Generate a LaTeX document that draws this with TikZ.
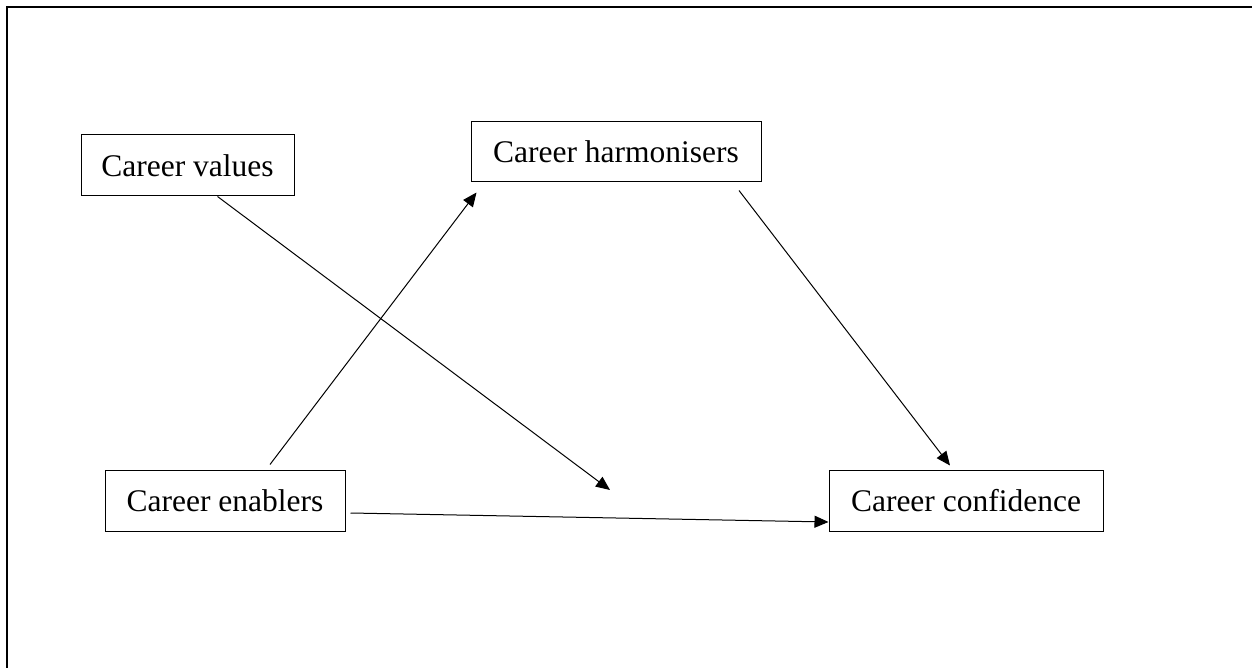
\documentclass[tikz,border=0pt]{standalone}
\usepackage{fontspec}
\setmainfont{Liberation Serif}
\usetikzlibrary{arrows.meta,calc}
\begin{document}
\begin{tikzpicture}[x=1pt,y=-1pt,
  box/.style={draw,line width=1pt,inner sep=0pt,anchor=center,
    font=\fontsize{31.5}{38}\selectfont},
  arr/.style={line width=1pt,-{Triangle[length=14pt,width=12pt]}}]
\useasboundingbox[fill=white] (0,0) rectangle (1252,668);
\draw[line width=2.2pt] (7,668) -- (7,7) -- (1252,7);
\node[box,minimum width=213pt,minimum height=61pt] (values) at (187.5,165.5) {Career values};
\node[box,minimum width=290pt,minimum height=60pt] (harm) at (616,152) {Career harmonisers};
\node[box,minimum width=240pt,minimum height=61pt] (enab) at (225,500.5) {Career enablers};
\node[box,minimum width=274pt,minimum height=61pt] (conf) at (966,500.5) {Career confidence};
\coordinate (vend) at (610,490);
\draw[arr] ($(values.south)+(30,0)$) -- (vend);
\draw[arr] ($(enab.north)+(45,-5)$) -- ($(harm.south west)+(6,10)$);
\draw[arr] ($(harm.south)+(123,8)$) -- ($(conf.north)+(-16,-4)$);
\draw[arr] ($(enab.east)+(5,12.5)$) -- ($(conf.west)+(0,21.5)$);
\end{tikzpicture}
\end{document}
